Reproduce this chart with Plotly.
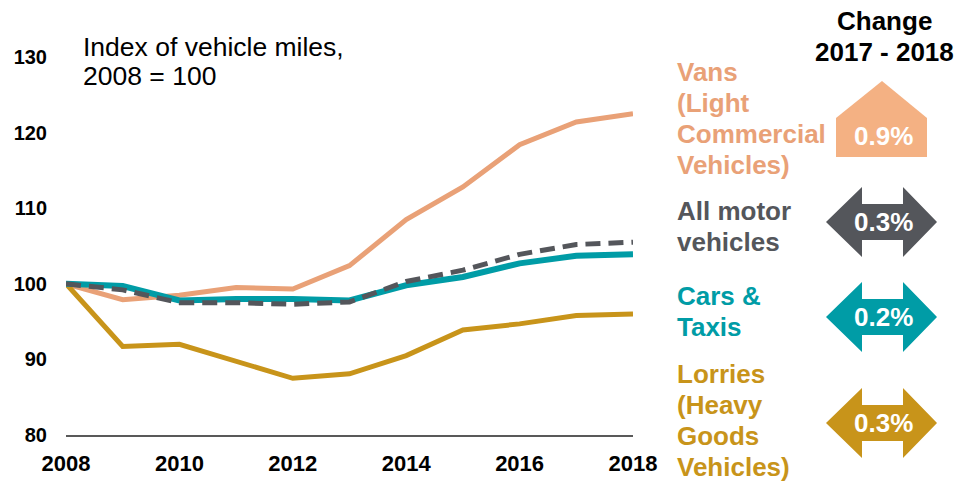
import plotly.graph_objects as go

years = [2008, 2009, 2010, 2011, 2012, 2013, 2014, 2015, 2016, 2017, 2018]
vans = [100, 97.9, 98.5, 99.5, 99.3, 102.4, 108.5, 112.8, 118.4, 121.4, 122.5]
cars = [100, 99.7, 97.8, 98.0, 98.0, 97.8, 99.8, 100.9, 102.7, 103.7, 103.9]
all_motor = [100, 99.2, 97.5, 97.5, 97.3, 97.6, 100.3, 101.8, 103.9, 105.2, 105.5]
lorries = [100, 91.7, 92.0, 89.7, 87.5, 88.1, 90.5, 93.9, 94.7, 95.8, 96.0]

y_ticks = [80, 90, 100, 110, 120, 130]
x_ticks = [2008, 2010, 2012, 2014, 2016, 2018]

series_labels = [
    ["Vans", "(Light", "Commercial", "Vehicles)"],
    ["All motor", "vehicles"],
    ["Cars &", "Taxis"],
    ["Lorries", "(Heavy", "Goods", "Vehicles)"],
]
change_pct = ["0.9%", "0.3%", "0.2%", "0.3%"]
change_dir = ["up", "both", "both", "both"]

C_VANS = "#E9A177"
C_VANS_BOX = "#F4B183"
C_ALL = "#54565B"
C_CARS = "#009CA6"
C_LORRY = "#C8941A"
FONT = "Liberation Sans, Arial, sans-serif"

# plot area in pixels
L, R, T, B = 66, 633, 57, 435
W, H = 970, 482


def px(x):
    return (x - L) / (R - L)


def py(y):
    return (B - y) / (B - T)


fig = go.Figure()
fig.add_trace(go.Scatter(x=years, y=vans, mode="lines", line=dict(color=C_VANS, width=5), name="Vans"))
fig.add_trace(go.Scatter(x=years, y=lorries, mode="lines", line=dict(color=C_LORRY, width=5), name="Lorries"))
fig.add_trace(go.Scatter(x=years, y=cars, mode="lines", line=dict(color=C_CARS, width=6), name="Cars"))
fig.add_trace(go.Scatter(x=years, y=all_motor, mode="lines",
                         line=dict(color=C_ALL, width=5, dash="15px,8px"), name="All motor vehicles"))

annotations = []
# title
for text, yc in [("Index of vehicle miles,", 47), ("2008 = 100", 76)]:
    annotations.append(dict(xref="paper", yref="paper", x=px(81), y=py(yc), xanchor="left", yanchor="middle",
                            text=text, showarrow=False, font=dict(family=FONT, size=26.5, color="#000000")))
# change header
for text, yc in [("Change", 21), ("2017 - 2018", 52)]:
    annotations.append(dict(xref="paper", yref="paper", x=px(884), y=py(yc), xanchor="center", yanchor="middle",
                            text="<b>" + text + "</b>", showarrow=False,
                            font=dict(family=FONT, size=26, color="#000000")))

label_colors = [C_VANS, C_ALL, C_CARS, C_LORRY]
label_starts = [72, 211, 296, 374]
for lines, col, y0 in zip(series_labels, label_colors, label_starts):
    for i, t in enumerate(lines):
        annotations.append(dict(xref="paper", yref="paper", x=px(675), y=py(y0 + i * 31), xanchor="left",
                                yanchor="middle", text="<b>" + t + "</b>", showarrow=False,
                                font=dict(family=FONT, size=26, color=col)))

shapes = []
box_colors = [C_VANS_BOX, C_ALL, C_CARS, C_LORRY]
centers = [136, 222, 317, 423]


def path_from(points):
    return "M " + " L ".join(f"{px(x):.5f},{py(y):.5f}" for x, y in points) + " Z"


for pct, d, col, c in zip(change_pct, change_dir, box_colors, centers):
    if d == "up":
        pts = [(836, 157), (836, 118), (882, 81), (927, 118), (927, 157)]
    else:
        pts = [(826, c), (862, c - 35), (862, c - 18), (903, c - 18), (903, c - 35), (937, c),
               (903, c + 35), (903, c + 18), (862, c + 18), (862, c + 35)]
    shapes.append(dict(type="path", xref="paper", yref="paper", path=path_from(pts),
                       fillcolor=col, line=dict(width=0), layer="above"))
    annotations.append(dict(xref="paper", yref="paper", x=px(883), y=py(c), xanchor="center", yanchor="middle",
                            text="<b>" + pct + "</b>", showarrow=False,
                            font=dict(family=FONT, size=26, color="#FFFFFF")))

fig.update_layout(
    width=W, height=H,
    margin=dict(l=L, r=W - R, t=T, b=H - B, pad=0, autoexpand=False),
    paper_bgcolor="#FFFFFF", plot_bgcolor="#FFFFFF",
    showlegend=False,
    annotations=annotations,
    shapes=shapes,
    xaxis=dict(range=[2008, 2018], tickvals=x_ticks, ticktext=[str(v) for v in x_ticks],
               showgrid=False, zeroline=False, showline=True, linecolor="#595959", linewidth=2,
               ticks="", ticklabelstandoff=8, automargin=False,
               tickfont=dict(family=FONT, size=22, color="#000000", weight="bold")),
    yaxis=dict(range=[80, 130], tickvals=y_ticks, showgrid=False, zeroline=False, showline=False,
               ticks="", ticklabelstandoff=18, automargin=False,
               tickfont=dict(family=FONT, size=20, color="#000000", weight="bold")),
)

fig.write_html("out.html", config={"displayModeBar": False},
               post_script="document.body.style.margin='0px';document.body.style.overflow='hidden';")
